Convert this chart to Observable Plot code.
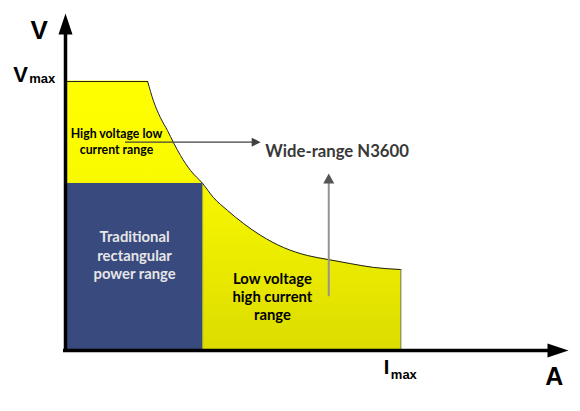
<!DOCTYPE html>
<html>
<head>
<meta charset="utf-8">
<script src="https://cdn.jsdelivr.net/npm/d3@7"></script>
<script src="https://cdn.jsdelivr.net/npm/@observablehq/plot@0.6"></script>
<style>
  html, body { margin: 0; padding: 0; background: #fff; }
  #chart { width: 580px; height: 411px; }
</style>
</head>
<body>
<div id="chart"></div>
<script>
// ---- data (current I, voltage V in arbitrary units; Vmax = Imax = 10) ----
const vMax = 10;
const iMax = 10;
const flatTopI = [0, 2.45];
const flatTopV = [10, 10];
const curveI = [2.45, 2.62, 2.83, 3.04, 3.22, 3.43, 3.73, 4.09, 4.41, 4.83, 5.31, 5.82, 6.50, 7.22, 7.84, 8.50, 9.18, 10.0];
const curveV = [10.0, 9.29, 8.66, 8.18, 7.73, 7.25, 6.69, 6.21, 5.69, 5.21, 4.72, 4.28, 3.83, 3.53, 3.38, 3.23, 3.09, 3.01];
const tradI = 4.09;   // traditional rectangular range: current limit
const tradV = 6.21;   // traditional rectangular range: voltage limit
const hArrowI = [1.79, 5.82];
const hArrowV = 7.745;
const vArrowI = 7.85;
const vArrowV = [2.0, 6.58];
const axisTopV = 12.53;
const axisEndI = 15;

const labelHigh = "High voltage low\ncurrent range";
const labelWide = "Wide-range N3600";
const labelTrad = "Traditional\nrectangular\npower range";
const labelLow = "Low voltage\nhigh current\nrange";

// ---- derived tables ----
const flatTop = flatTopI.map((i, k) => ({i, v: flatTopV[k]}));
const curve = curveI.map((i, k) => ({i, v: curveV[k]}));
const tradRect = [{i0: 0, i1: tradI, v0: 0, v1: tradV}];

// arrowhead symbols (tip at origin)
function headUp(L, W) {
  return {draw(ctx) { ctx.moveTo(0, 0); ctx.lineTo(W, L); ctx.lineTo(-W, L); ctx.closePath(); }};
}
function headRight(L, W) {
  return {draw(ctx) { ctx.moveTo(0, 0); ctx.lineTo(-L, -W); ctx.lineTo(-L, W); ctx.closePath(); }};
}

const sans = "'Liberation Sans', Arial, sans-serif";
const hum = "Lato, 'Open Sans', sans-serif";

const plot = Plot.plot({
  width: 580,
  height: 411,
  marginLeft: 65,
  marginRight: 12,
  marginTop: 13,
  marginBottom: 61,
  x: {domain: [0, axisEndI], axis: null},
  y: {domain: [0, axisTopV], axis: null},
  style: {background: "white", overflow: "visible"},
  marks: [
    // yellow wide range
    Plot.areaY(flatTop, {x: "i", y: "v", fill: "url(#yg)", stroke: "url(#yg)", strokeWidth: 1}),
    Plot.areaY(curve, {x: "i", y: "v", curve: "monotone-x", fill: "url(#yg)"}),
    // traditional rectangle
    Plot.rect(tradRect, {x1: "i0", x2: "i1", y1: "v0", y2: "v1", fill: "#394a7f"}),
    Plot.ruleX([tradI], {y1: 0, y2: tradV, stroke: "#9a9a30", strokeWidth: 0.8}),
    // outline
    Plot.line(flatTop, {x: "i", y: "v", stroke: "#1e1e1e", strokeWidth: 1}),
    Plot.line(curve, {x: "i", y: "v", curve: "monotone-x", stroke: "#1e1e1e", strokeWidth: 1}),
    Plot.ruleX([iMax], {y1: 0, y2: curveV[curveV.length - 1], stroke: "#707018", strokeWidth: 1}),
    // axes
    Plot.ruleX([0], {y1: 0, y2: axisTopV - 0.6, stroke: "black", strokeWidth: 3.5}),
    Plot.ruleY([0], {x1: -0.06, x2: axisEndI - 0.5, stroke: "black", strokeWidth: 3.5}),
    Plot.dot([{i: 0, v: axisTopV}], {x: "i", y: "v", symbol: headUp(21, 7), fill: "black", stroke: "none"}),
    Plot.dot([{i: axisEndI, v: 0}], {x: "i", y: "v", symbol: headRight(21, 7), fill: "black", stroke: "none"}),
    // annotation arrows
    Plot.ruleY([hArrowV], {x1: hArrowI[0], x2: hArrowI[1] - 0.15, stroke: "#404040", strokeWidth: 1.2}),
    Plot.dot([{i: hArrowI[1], v: hArrowV}], {x: "i", y: "v", symbol: headRight(9, 4.5), fill: "#404040", stroke: "none"}),
    Plot.ruleX([vArrowI], {y1: vArrowV[0], y2: vArrowV[1] - 0.2, stroke: "#939393", strokeWidth: 2}),
    Plot.dot([{i: vArrowI, v: vArrowV[1]}], {x: "i", y: "v", symbol: headUp(10, 5.5), fill: "#555555", stroke: "none"}),
    // axis labels
    Plot.text(["V"], {x: -1.044, y: 11.6, textAnchor: "start", lineAnchor: "bottom", fontSize: 26, fontWeight: "bold", fontFamily: sans, fill: "black"}),
    Plot.text(["V"], {x: -1.56, y: vMax, textAnchor: "start", lineAnchor: "bottom", fontSize: 22, fontWeight: "bold", fontFamily: sans, fill: "black"}),
    Plot.text(["max"], {x: -1.56, y: vMax, dx: 16, dy: 1.5, textAnchor: "start", lineAnchor: "bottom", fontSize: 13, fontWeight: "bold", fontFamily: sans, fill: "black"}),
    Plot.text(["I"], {x: iMax, y: 0, dx: -17, dy: 23, textAnchor: "start", lineAnchor: "bottom", fontSize: 20, fontWeight: "bold", fontFamily: sans, fill: "black"}),
    Plot.text(["max"], {x: iMax, y: 0, dx: -10, dy: 28, textAnchor: "start", lineAnchor: "bottom", fontSize: 13, fontWeight: "bold", fontFamily: sans, fill: "black"}),
    Plot.text(["A"], {x: 14.31, y: -1.30, textAnchor: "start", lineAnchor: "bottom", fontSize: 25, fontWeight: "bold", fontFamily: sans, fill: "black"}),
    // region labels
    Plot.text([labelHigh], {x: 1.52, y: 7.32, textAnchor: "middle", lineAnchor: "bottom", lineHeight: 16 / 12.3, fontSize: 12.3, fontWeight: "bold", fontFamily: hum, fill: "black"}),
    Plot.text([labelWide], {x: 8.10, y: 7.18, textAnchor: "middle", lineAnchor: "bottom", fontSize: 16.7, fontWeight: "bold", fontFamily: hum, fill: "#383838"}),
    Plot.text([labelTrad], {x: 2.06, y: 2.64, textAnchor: "middle", lineAnchor: "bottom", lineHeight: 18.5 / 14.8, fontSize: 14.8, fontWeight: "bold", fontFamily: hum, fill: "#e6e6e6"}),
    Plot.text([labelLow], {x: 6.17, y: 1.12, textAnchor: "middle", lineAnchor: "bottom", lineHeight: 18.3 / 14.8, fontSize: 14.8, fontWeight: "bold", fontFamily: hum, fill: "black"})
  ]
});

// gradient for yellow region, anchored through the y scale
const ys = plot.scale("y");
const yTop = ys.apply(vMax), yBot = ys.apply(0);
const ns = "http://www.w3.org/2000/svg";
const defs = document.createElementNS(ns, "defs");
defs.innerHTML = `<linearGradient id="yg" gradientUnits="userSpaceOnUse" x1="0" y1="${yTop}" x2="0" y2="${yBot}">
  <stop offset="0" stop-color="#ffff00"/>
  <stop offset="0.3" stop-color="#fbfb00"/>
  <stop offset="1" stop-color="#dcdc00"/>
</linearGradient>`;
plot.insertBefore(defs, plot.firstChild);

document.getElementById("chart").appendChild(plot);
</script>
</body>
</html>
